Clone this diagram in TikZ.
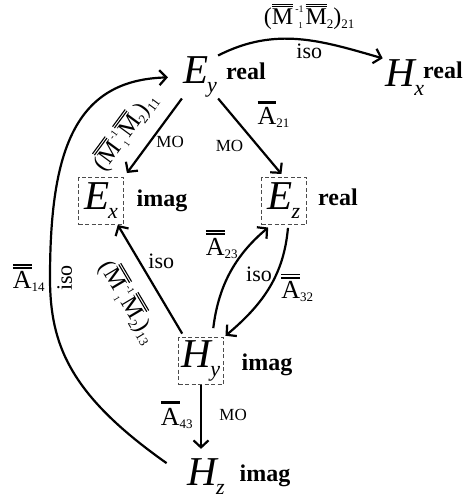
\documentclass[tikz,border=0pt]{standalone}
\usepackage{fontspec}
\setmainfont{Liberation Serif}
\usetikzlibrary{arrows.meta, positioning}

% field symbols and matrix labels
\newcommand{\fld}[2]{{\fontsize{41}{41}\selectfont\itshape #1}\kern-1pt\raisebox{-9pt}{\fontsize{22}{22}\selectfont\itshape #2}}
\newcommand{\barA}{\vbox{\hrule height 2.8pt\kern4pt\hbox{A}}}
\newcommand{\bbarA}{\vbox{\hrule height 1.8pt\kern1.6pt\hrule height 1.8pt\kern2.6pt\hbox{A}}}
\newcommand{\bbarM}{\vbox{\hrule height 1.1pt\kern1.2pt\hrule height 1.1pt\kern2pt\hbox{M}}}
\newcommand{\lowr}[2]{\raisebox{#1}{\fontsize{13}{13}\selectfont #2}}
\newcommand{\Aone}[1]{{\fontsize{26}{26}\selectfont\barA}\lowr{-3pt}{#1}}
\newcommand{\Atwo}[1]{{\fontsize{26}{26}\selectfont\bbarA}\lowr{-3pt}{#1}}
\newcommand{\Mprod}[1]{{\fontsize{24}{24}\selectfont(\bbarM\kern2pt\rlap{\kern3pt\raisebox{-4pt}{\fontsize{9}{9}\selectfont 1}}\raisebox{12pt}{\fontsize{10}{10}\selectfont -1}\kern2pt\bbarM\lowr{-4pt}{2})}\lowr{-4pt}{#1}}

\tikzset{
  field/.style={inner sep=1pt},
  fieldbox/.style={draw=black!70, dash pattern=on 4pt off 2.5pt, line width=0.9pt,
    minimum width=45pt, minimum height=47pt, inner sep=0pt},
  tag/.style={font=\fontsize{24}{24}\selectfont\bfseries},
  lbl/.style={font=\fontsize{22}{22}\selectfont},
  mo/.style={font=\fontsize{17}{17}\selectfont},
  conn/.style={->, line width=2.2pt},
}

\begin{document}
\begin{tikzpicture}[x=1pt, y=1pt, >={Straight Barb[length=7pt,width=15pt]}]
  \useasboundingbox (0,0) rectangle (470,-499);

  % --- field components ---
  \node[field] (Ey) at (200,-77) {\fld{E}{y}};
  \node[field] (Hx) at (405,-78) {\fld{H}{x}};
  \node[fieldbox] (Ex) at (101,-201) {\fld{E}{x}};
  \node[fieldbox] (Ez) at (284,-201) {\fld{E}{z}};
  \node[fieldbox] (Hy) at (201,-361) {\fld{H}{y}};
  \node[field] (Hz) at (206,-477) {\fld{H}{z}};

  % --- real / imag tags ---
  \node[tag] (tEy) at (246,-71) {real};
  \node[tag] (tHx) at (443,-70) {real};
  \node[tag] (tEx) at (162,-201) {imag};
  \node[tag] (tEz) at (338,-197) {real};
  \node[tag] (tHy) at (267,-365) {imag};
  \node[tag] (tHz) at (265,-476) {imag};

  % --- connectors ---
  \draw[conn, shorten >=2pt] (Ey.north east) to[out=27, in=164]
    node[lbl, pos=.56, above=6pt] {\Mprod{21}} node[lbl, pos=.56, below=-1pt] {iso} (Hx.north west);
  \draw[conn, shorten >=5pt] (Ey.south west) -- (Ex.north east)
    node[lbl, pos=.62, sloped, above=9pt] {\Mprod{11}}
    node[mo, pos=.55, right=2pt] {MO};
  \draw[conn, shorten >=4pt] (Ey.south east) -- (Ez.north)
    node[pos=.2, right=22pt] {\Aone{21}}
    node[mo, pos=.6, left=10pt] {MO};
  \draw[conn, shorten <=4pt] (Hy.125) -- (Ex.-55)
    node[lbl, pos=.68, right=5pt] {iso}
    node[lbl, pos=.45, sloped, below=12pt] {\Mprod{13}};
  \draw[conn, shorten <=9pt, shorten >=4pt] (Hy.65) to[out=83, in=220]
    node[pos=.8, left=9pt] {\Atwo{23}}
    node[lbl, pos=.5, right=12pt] {iso} (Ez.-118);
  \draw[conn, shorten <=3pt, shorten >=2pt] (Ez.-80) to[out=-95, in=40]
    node[pos=.5, right=8pt] {\Atwo{32}} (Hy.north east);
  \draw[conn, shorten >=9pt] (Hy.south) -- (Hy.south |- Hz.north)
    node[pos=.41, left=4pt] {\Aone{43}}
    node[mo, pos=.41, right=14pt] {MO};
  \draw[conn, shorten <=24pt, shorten >=14pt] (Hz.west)
    .. controls (70,-395) and (50,-345) .. (50,-278)
    node[pos=1, left=1pt] {\Atwo{14}} node[lbl, pos=1, sloped, below=3pt] {iso}
    .. controls (50,-150) and (75,-80) .. (Ey.west);
\end{tikzpicture}
\end{document}
